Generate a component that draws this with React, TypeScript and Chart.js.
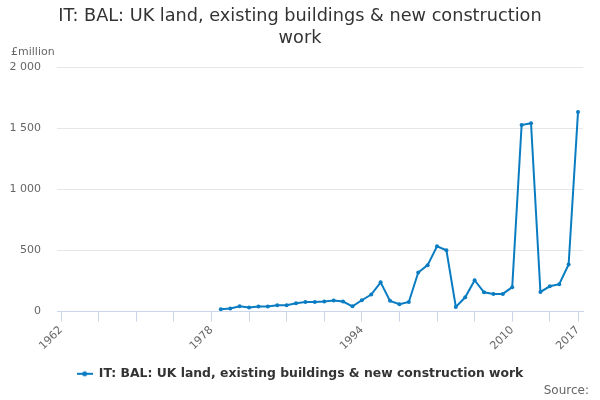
import React, { useEffect, useRef } from "react";
import { Chart, registerables } from "chart.js";

Chart.register(...registerables);

const TITLE_LINES = ["IT: BAL: UK land, existing buildings & new construction", "work"];
const SERIES_NAME = "IT: BAL: UK land, existing buildings & new construction work";
const UNIT_LABEL = "£million";
const SOURCE_LABEL = "Source:";

const years = [
  1979, 1980, 1981, 1982, 1983, 1984, 1985, 1986, 1987, 1988,
  1989, 1990, 1991, 1992, 1993, 1994, 1995, 1996, 1997, 1998,
  1999, 2000, 2001, 2002, 2003, 2004, 2005, 2006, 2007, 2008,
  2009, 2010, 2011, 2012, 2013, 2014, 2015, 2016, 2017,
];
const values = [
  19, 25, 43, 33, 41, 41, 52, 52, 68, 79,
  79, 82, 90, 82, 43, 93, 139, 240, 88, 60,
  79, 320, 380, 535, 502, 38, 117, 257, 158, 145,
  145, 200, 1527, 1541, 161, 207, 224, 385, 1634,
];
const xTickYears = [1962, 1966, 1970, 1974, 1978, 1982, 1986, 1990, 1994, 1998, 2002, 2006, 2010, 2014, 2017];
const xLabelYears = [1962, 1978, 1994, 2010, 2017];
const yTicks = [0, 500, 1000, 1500, 2000];

const BLUE = "#0a7cc2";
const FONT = "'DejaVu Sans', sans-serif";

function makeLegendSymbol(): HTMLCanvasElement {
  const c = document.createElement("canvas");
  c.width = 16;
  c.height = 8;
  const g = c.getContext("2d")!;
  g.strokeStyle = BLUE;
  g.lineWidth = 2;
  g.beginPath();
  g.moveTo(0, 4);
  g.lineTo(16, 4);
  g.stroke();
  g.fillStyle = BLUE;
  g.beginPath();
  g.arc(8, 4, 2.5, 0, Math.PI * 2);
  g.fill();
  return c;
}

const extraText = {
  id: "extraText",
  afterDraw(chart: any) {
    const ctx = chart.ctx;
    ctx.save();
    ctx.fillStyle = "#666666";
    ctx.font = `11px ${FONT}`;
    ctx.textAlign = "left";
    ctx.textBaseline = "middle";
    ctx.fillText(UNIT_LABEL, 11, 52);
    ctx.font = `12px ${FONT}`;
    ctx.textAlign = "right";
    ctx.fillText(SOURCE_LABEL, 589, 391);
    ctx.restore();
  },
};

function formatThousands(v: number): string {
  return String(v).replace(/\B(?=(\d{3})+(?!\d))/g, " ");
}

export default function App() {
  const ref = useRef<HTMLCanvasElement | null>(null);
  useEffect(() => {
    if (!ref.current) return;
    const chart = new Chart(ref.current, {
      type: "line",
      data: {
        datasets: [
          {
            label: SERIES_NAME,
            data: years.map((y, i) => ({ x: y, y: values[i] })),
            borderColor: BLUE,
            backgroundColor: BLUE,
            borderWidth: 2,
            pointRadius: 2,
            pointHoverRadius: 2,
            pointBackgroundColor: BLUE,
            pointBorderWidth: 0,
            tension: 0,
          },
        ],
      },
      plugins: [extraText],
      options: {
        animation: false,
        responsive: false,
        devicePixelRatio: 1,
        layout: { padding: { left: 0, right: 0, top: 0, bottom: 10 } },
        plugins: {
          tooltip: { enabled: false },
          title: {
            display: true,
            text: TITLE_LINES,
            color: "#333333",
            font: { family: FONT, size: 17.7, weight: "normal", lineHeight: 1.22 },
            padding: { top: 6, bottom: 18 },
          },
          legend: {
            position: "bottom",
            labels: {
              usePointStyle: true,
              pointStyle: makeLegendSymbol() as any,
              pointStyleWidth: 16,
              color: "#333333",
              font: { family: FONT, size: 12.4, weight: "bold" },
              padding: 10,
            },
          },
        },
        scales: {
          x: {
            type: "linear",
            min: 1961.57,
            max: 2017.53,
            afterBuildTicks: (scale: any) => {
              scale.ticks = xTickYears.map((v) => ({ value: v }));
            },
            afterFit: (scale: any) => {
              scale.height = 46;
            },
            border: { display: true, color: "#ccd6eb", width: 1 },
            grid: {
              drawOnChartArea: false,
              drawTicks: true,
              tickLength: 10,
              tickColor: "#ccd6eb",
              color: "#ccd6eb",
            },
            ticks: {
              autoSkip: false,
              minRotation: 45,
              maxRotation: 45,
              padding: 2,
              color: "#666666",
              font: { family: FONT, size: 11 },
              callback: (v: any) => (xLabelYears.includes(Number(v)) ? String(v) : ""),
            },
          },
          y: {
            type: "linear",
            min: 0,
            max: 2000,
            afterBuildTicks: (scale: any) => {
              scale.ticks = yTicks.map((v) => ({ value: v }));
            },
            afterFit: (scale: any) => {
              scale.width = 57;
            },
            border: { display: false },
            grid: {
              drawTicks: false,
              color: (c: any) => (c.tick && c.tick.value === 0 ? "rgba(0,0,0,0)" : "#e6e6e6"),
            },
            ticks: {
              padding: 16,
              color: "#666666",
              font: { family: FONT, size: 11 },
              callback: (v: any) => formatThousands(Number(v)),
            },
          },
          rightSpacer: {
            type: "linear",
            position: "right",
            min: 0,
            max: 2000,
            afterFit: (scale: any) => {
              scale.width = 17;
            },
            border: { display: false },
            grid: { display: false },
            ticks: { display: false },
          },
        },
      },
    });
    return () => chart.destroy();
  }, []);
  return (
    <div style={{ position: "fixed", left: 0, top: 0, width: 600, height: 400, background: "#ffffff" }}>
      <canvas ref={ref} width={600} height={400} style={{ width: 600, height: 400 }} />
    </div>
  );
}
